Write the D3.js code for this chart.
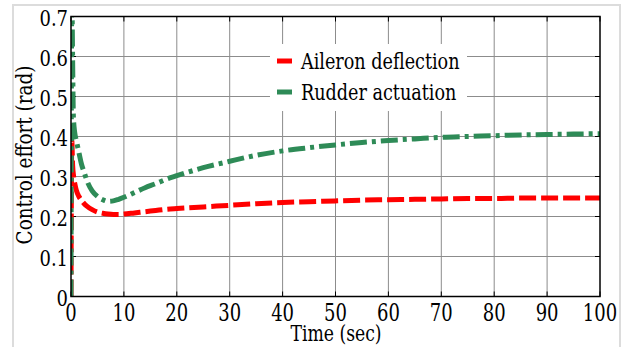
<!DOCTYPE html>
<html><head><meta charset="utf-8">
<script src="https://cdn.jsdelivr.net/npm/d3@7"></script>
<style>
html,body{margin:0;padding:0;background:#fff;}
</style></head>
<body><svg id="c" width="626" height="347"></svg>
<script>
// ---- data ----
const xTicks = [0,10,20,30,40,50,60,70,80,90,100];
const yTicks = [0,0.1,0.2,0.3,0.4,0.5,0.6,0.7];
const yTickLabels = ["0","0.1","0.2","0.3","0.4","0.5","0.6","0.7"];
const seriesNames = ["Aileron deflection","Rudder actuation"];
const aileronTime   = [0,0.15,0.3,0.5,0.75,1,1.5,2,2.5,3,4,5,6,7,8,9,10,12,14,16,18,20,25,30,35,40,45,50,55,60,65,70,75,80,85,90,95,100];
const aileronValues = [0,0.39,0.33,0.30,0.28,0.266,0.25,0.24,0.232,0.226,0.217,0.211,0.208,0.206,0.205,0.205,0.206,0.209,0.212,0.215,0.218,0.22,0.224,0.228,0.232,0.235,0.237,0.239,0.241,0.242,0.243,0.244,0.245,0.245,0.246,0.246,0.246,0.246];
const rudderTime   = [0,0.15,0.3,0.45,0.7,1,1.5,2,2.5,3,4,5,6,7,8,9,10,12,14,16,18,20,25,30,35,40,45,50,55,60,65,70,75,80,85,90,95,100];
const rudderValues = [0,0.76,0.6,0.45,0.41,0.39,0.36,0.33,0.31,0.29,0.264,0.25,0.242,0.238,0.239,0.243,0.248,0.26,0.272,0.282,0.293,0.302,0.322,0.338,0.353,0.364,0.372,0.379,0.385,0.39,0.394,0.398,0.4,0.402,0.404,0.405,0.406,0.407];
const colors = ["#ff0000","#2e8b57"];

const FONT = "DejaVu Serif, serif";
const svg = d3.select("#c");
// outer figure frame
svg.append("rect").attr("x",13).attr("y",5).attr("width",607).attr("height",360)
  .attr("fill","none").attr("stroke","#dcdcdc").attr("stroke-width",2);

const x = d3.scaleLinear().domain([0,100]).range([71,600]);
const y = d3.scaleLinear().domain([0,0.7]).range([296.5,16.5]);

// grid
const g = svg.append("g");
g.selectAll(".gx").data(xTicks.slice(1,-1)).join("line")
  .attr("x1",d=>x(d)).attr("x2",d=>x(d)).attr("y1",y(0)).attr("y2",y(0.7))
  .attr("stroke","#8c8c8c").attr("stroke-width",1);
g.selectAll(".gy").data(yTicks.slice(1,-1)).join("line")
  .attr("y1",d=>y(d)).attr("y2",d=>y(d)).attr("x1",x(0)).attr("x2",x(100))
  .attr("stroke","#8c8c8c").attr("stroke-width",1);

// ticks inward, all sides
const tl = 5;
const tg = svg.append("g").attr("stroke","#000").attr("stroke-width",1);
xTicks.forEach(d=>{
  tg.append("line").attr("x1",x(d)).attr("x2",x(d)).attr("y1",y(0)).attr("y2",y(0)-tl);
  tg.append("line").attr("x1",x(d)).attr("x2",x(d)).attr("y1",y(0.7)).attr("y2",y(0.7)+tl);
});
yTicks.forEach(d=>{
  tg.append("line").attr("y1",y(d)).attr("y2",y(d)).attr("x1",x(0)).attr("x2",x(0)+tl);
  tg.append("line").attr("y1",y(d)).attr("y2",y(d)).attr("x1",x(100)).attr("x2",x(100)-tl);
});

// legend background box
svg.append("rect").attr("x",270).attr("y",44).attr("width",197).attr("height",67).attr("fill","#fff");

// clip
svg.append("clipPath").attr("id","clip").append("rect")
  .attr("x",x(0)).attr("y",y(0.7)).attr("width",x(100)-x(0)).attr("height",y(0)-y(0.7));

const line = d3.line().x(d=>x(d[0])).y(d=>y(d[1])).curve(d3.curveMonotoneX);
const lg = svg.append("g").attr("clip-path","url(#clip)");
lg.append("path").datum(aileronTime.map((t,i)=>[t,aileronValues[i]]))
  .attr("d",line).attr("fill","none").attr("stroke",colors[0]).attr("stroke-width",5)
  .attr("stroke-dasharray","17,5");
lg.append("path").datum(rudderTime.map((t,i)=>[t,rudderValues[i]]))
  .attr("d",line).attr("fill","none").attr("stroke",colors[1]).attr("stroke-width",5)
  .attr("stroke-dasharray","17,5,4,5");

// axes box
svg.append("rect").attr("x",x(0)).attr("y",y(0.7)).attr("width",x(100)-x(0)).attr("height",y(0)-y(0.7))
  .attr("fill","none").attr("stroke","#000").attr("stroke-width",1.5);

// text helper: condensed serif
function txt(xx, yy, s, size, anchor, sx, rot) {
  return svg.append("text").attr("x",0).attr("y",0)
    .attr("transform",`translate(${xx},${yy})${rot?` rotate(${rot})`:""} scale(${sx},1)`)
    .attr("text-anchor",anchor).attr("font-family",FONT).attr("font-size",size)
    .attr("fill","#000").text(s);
}
// tick labels
xTicks.forEach(d=>txt(x(d),321,String(d),24,"middle",0.75));
yTicks.forEach((d,i)=>txt(68,y(d)+9,yTickLabels[i],23,"end",0.78));

// axis labels
txt(336,341,"Time (sec)",23,"middle",0.75);
txt(32,155,"Control effort (rad)",23,"middle",0.8,-90);

// legend
seriesNames.forEach((n,i)=>{
  const yy = 61 + i*31;
  svg.append("line").attr("x1",277).attr("x2",292).attr("y1",yy).attr("y2",yy)
    .attr("stroke",colors[i]).attr("stroke-width",5);
  txt(301,yy+8,n,22,"start",0.8);
});
</script></body></html>
